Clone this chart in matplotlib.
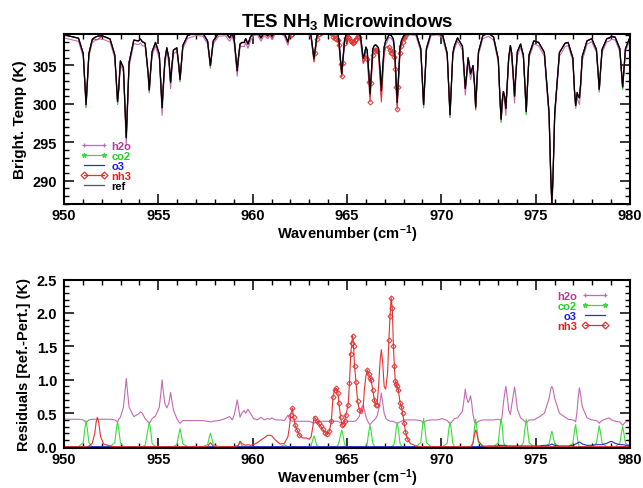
import numpy as np
import matplotlib
matplotlib.use("Agg")
import matplotlib.pyplot as plt
from matplotlib.lines import Line2D
from matplotlib.ticker import MultipleLocator, FormatStrFormatter

# common wavenumber grid (cm-1)
wn = [
    950.00, 950.77, 951.02, 951.11, 951.17, 951.23, 951.32, 951.50,
    951.63, 951.71, 951.77, 951.84, 951.94, 952.10, 952.44, 952.69,
    952.78, 952.84, 952.90, 952.99, 953.15, 953.24, 953.30, 953.36,
    953.45, 953.70, 953.95, 954.05, 954.15, 954.30, 954.46, 954.52,
    954.58, 954.67, 954.85, 955.05, 955.14, 955.20, 955.26, 955.35,
    955.45, 955.56, 955.65, 955.71, 955.80, 955.98, 956.09, 956.15,
    956.21, 956.30, 956.55, 957.00, 957.36, 957.61, 957.70, 957.76,
    957.82, 957.91, 958.20, 958.55, 958.78, 958.92, 959.03, 959.12,
    959.18, 959.24, 959.33, 959.42, 959.55, 959.63, 959.75, 959.88,
    960.05, 960.25, 960.44, 960.60, 960.80, 960.92, 961.02, 961.20,
    961.45, 961.68, 961.87, 961.95, 962.02, 962.10, 962.17, 962.25,
    962.35, 962.48, 962.65, 962.85, 963.00, 963.10, 963.19, 963.25,
    963.31, 963.40, 963.50, 963.60, 963.72, 963.83, 963.96, 964.06,
    964.17, 964.26, 964.35, 964.44, 964.52, 964.57, 964.66, 964.72,
    964.78, 964.87, 964.95, 965.06, 965.13, 965.20, 965.25, 965.30,
    965.35, 965.40, 965.48, 965.56, 965.65, 965.73, 965.80, 965.86,
    965.92, 966.00, 966.07, 966.16, 966.22, 966.28, 966.37, 966.45,
    966.52, 966.60, 966.67, 966.76, 966.82, 966.88, 966.97, 967.05,
    967.15, 967.22, 967.28, 967.34, 967.40, 967.46, 967.51, 967.56,
    967.60, 967.66, 967.72, 967.81, 967.88, 967.95, 968.02, 968.10,
    968.20, 968.35, 968.65, 968.91, 969.00, 969.06, 969.12, 969.21,
    969.46, 969.80, 970.06, 970.31, 970.40, 970.46, 970.52, 970.61,
    970.70, 970.86, 971.12, 971.21, 971.27, 971.33, 971.42, 971.49,
    971.55, 971.61, 971.68, 971.76, 971.82, 971.88, 971.97, 972.20,
    972.50, 972.77, 973.02, 973.11, 973.17, 973.23, 973.29, 973.36,
    973.42, 973.48, 973.57, 973.66, 973.73, 973.82, 973.88, 973.94,
    974.03, 974.20, 974.35, 974.44, 974.50, 974.56, 974.65, 974.90,
    975.16, 975.46, 975.71, 975.80, 975.86, 975.92, 976.01, 976.26,
    976.56, 976.72, 976.97, 977.06, 977.12, 977.20, 977.26, 977.32,
    977.38, 977.47, 977.72, 977.97, 978.22, 978.31, 978.37, 978.43,
    978.52, 978.77, 978.90, 979.02, 979.21, 979.46, 979.55, 979.61,
    979.67, 979.76, 980.00,
]

# reference brightness temperature (K)
tb_ref = [
    309.00, 308.55, 306.55, 302.60, 299.90, 302.60, 306.55, 308.40,
    308.65, 308.75, 308.80, 308.85, 308.85, 308.80, 308.45, 306.40,
    302.60, 300.30, 302.00, 305.60, 304.70, 299.30, 295.60, 299.60,
    305.40, 308.30, 308.20, 308.45, 308.10, 307.90, 304.00, 301.80,
    304.00, 306.80, 308.00, 306.50, 302.40, 299.50, 302.20, 305.75,
    307.30, 305.90, 302.80, 304.70, 307.00, 307.30, 304.90, 303.20,
    305.00, 307.60, 308.90, 309.30, 309.20, 308.20, 306.30, 305.00,
    306.30, 308.20, 309.20, 309.30, 308.60, 309.20, 308.20, 305.90,
    304.30, 305.90, 307.80, 308.00, 308.00, 308.50, 307.80, 308.70,
    309.30, 309.40, 308.60, 309.30, 308.90, 309.30, 308.80, 309.50,
    309.60, 309.20, 308.10, 309.00, 309.50, 309.70, 309.80, 309.80,
    309.80, 309.85, 309.80, 309.60, 309.40, 308.80, 307.10, 305.90,
    307.10, 308.80, 309.40, 309.60, 309.75, 309.80, 309.80, 309.75,
    309.60, 309.50, 309.45, 309.30, 309.10, 308.30, 305.70, 303.90,
    305.70, 308.30, 309.00, 309.40, 309.50, 309.60, 309.60, 309.60,
    309.60, 309.50, 309.40, 309.50, 309.20, 308.60, 307.10, 305.90,
    306.40, 307.40, 307.00, 303.90, 301.30, 303.70, 307.20, 307.60,
    307.70, 307.50, 307.30, 304.20, 301.70, 304.20, 307.40, 308.20,
    308.60, 309.00, 309.00, 308.90, 308.70, 308.40, 307.30, 305.50,
    303.10, 300.20, 303.10, 307.30, 308.20, 308.60, 308.90, 309.10,
    309.30, 309.40, 309.30, 307.20, 302.90, 299.90, 302.90, 307.20,
    309.30, 309.40, 309.05, 306.60, 301.90, 298.60, 301.90, 306.60,
    307.60, 308.60, 307.50, 304.25, 302.00, 303.50, 306.00, 305.00,
    303.90, 304.40, 305.00, 302.60, 299.60, 302.60, 306.80, 308.90,
    309.20, 308.70, 305.80, 300.60, 298.00, 300.50, 301.60, 300.90,
    299.40, 302.00, 306.00, 307.60, 306.60, 303.40, 301.00, 303.60,
    306.80, 307.80, 306.30, 302.10, 299.00, 302.10, 306.40, 308.20,
    308.00, 306.70, 298.80, 290.60, 287.10, 290.60, 298.80, 306.70,
    307.90, 308.00, 306.00, 301.70, 299.80, 301.50, 301.00, 300.80,
    302.50, 306.20, 308.20, 308.50, 307.10, 304.10, 301.90, 304.10,
    307.10, 308.50, 308.60, 308.80, 308.70, 307.20, 304.20, 302.20,
    304.20, 307.20, 308.70,
]

# residuals Ref. - Pert. (K) for each perturbed species
res_h2o = [
    0.41, 0.41, 0.40, 0.375, 0.36, 0.375, 0.40, 0.41,
    0.41, 0.41, 0.41, 0.41, 0.41, 0.41, 0.41, 0.40,
    0.38, 0.37, 0.41, 0.44, 0.59, 0.84, 1.02, 0.84,
    0.59, 0.45, 0.49, 0.52, 0.50, 0.42, 0.37, 0.35,
    0.37, 0.42, 0.46, 0.59, 0.82, 1.00, 0.82, 0.64,
    0.58, 0.65, 0.81, 0.70, 0.55, 0.42, 0.37, 0.35,
    0.37, 0.39, 0.39, 0.39, 0.39, 0.38, 0.375, 0.37,
    0.375, 0.38, 0.39, 0.42, 0.45, 0.40, 0.48, 0.61,
    0.70, 0.60, 0.44, 0.50, 0.54, 0.50, 0.56, 0.50,
    0.42, 0.40, 0.44, 0.40, 0.42, 0.41, 0.43, 0.40,
    0.40, 0.39, 0.47, 0.42, 0.39, 0.38, 0.38, 0.38,
    0.38, 0.38, 0.38, 0.38, 0.38, 0.37, 0.36, 0.35,
    0.36, 0.37, 0.38, 0.38, 0.38, 0.38, 0.38, 0.38,
    0.38, 0.38, 0.38, 0.38, 0.38, 0.37, 0.355, 0.34,
    0.355, 0.37, 0.38, 0.38, 0.38, 0.38, 0.38, 0.38,
    0.38, 0.38, 0.39, 0.42, 0.45, 0.55, 0.60, 0.62,
    0.55, 0.45, 0.40, 0.35, 0.33, 0.35, 0.38, 0.40,
    0.42, 0.46, 0.55, 0.68, 0.80, 0.68, 0.50, 0.43,
    0.40, 0.39, 0.38, 0.38, 0.38, 0.38, 0.37, 0.36,
    0.355, 0.35, 0.355, 0.37, 0.38, 0.39, 0.40, 0.40,
    0.40, 0.40, 0.40, 0.39, 0.37, 0.35, 0.37, 0.39,
    0.40, 0.40, 0.42, 0.39, 0.36, 0.35, 0.36, 0.39,
    0.42, 0.43, 0.53, 0.72, 0.86, 0.74, 0.66, 0.70,
    0.76, 0.65, 0.48, 0.37, 0.34, 0.36, 0.38, 0.40,
    0.40, 0.40, 0.41, 0.40, 0.36, 0.48, 0.65, 0.80,
    0.90, 0.78, 0.55, 0.48, 0.62, 0.78, 0.89, 0.78,
    0.56, 0.43, 0.40, 0.37, 0.36, 0.37, 0.40, 0.40,
    0.44, 0.50, 0.72, 0.86, 0.90, 0.86, 0.72, 0.50,
    0.44, 0.41, 0.40, 0.39, 0.37, 0.55, 0.75, 0.88,
    0.78, 0.60, 0.43, 0.40, 0.39, 0.37, 0.35, 0.37,
    0.39, 0.42, 0.43, 0.40, 0.38, 0.37, 0.34, 0.32,
    0.34, 0.37, 0.38,
]

res_co2 = [
    0, 0, 0.06, 0.28, 0.39, 0.28, 0.06, 0,
    0, 0, 0, 0, 0, 0, 0, 0.06,
    0.27, 0.38, 0.27, 0.06, 0, 0, 0, 0,
    0, 0, 0, 0, 0, 0.02, 0.27, 0.37,
    0.27, 0.05, 0, 0, 0, 0, 0, 0,
    0, 0, 0, 0, 0, 0.03, 0.19, 0.27,
    0.19, 0.04, 0, 0, 0, 0.03, 0.14, 0.20,
    0.14, 0.03, 0, 0, 0, 0, 0, 0,
    0, 0.01, 0.08, 0.02, 0, 0, 0, 0,
    0, 0, 0, 0, 0, 0, 0, 0,
    0, 0.03, 0, 0, 0, 0, 0, 0,
    0, 0, 0, 0, 0, 0.02, 0.11, 0.16,
    0.11, 0.02, 0, 0, 0, 0, 0, 0,
    0, 0, 0, 0, 0.02, 0.06, 0.18, 0.25,
    0.18, 0.04, 0, 0, 0, 0, 0, 0,
    0, 0, 0, 0, 0, 0, 0, 0,
    0, 0.01, 0.05, 0.23, 0.32, 0.23, 0.05, 0.01,
    0, 0, 0, 0, 0, 0, 0, 0,
    0, 0, 0, 0, 0.01, 0.02, 0.05, 0.15,
    0.26, 0.36, 0.26, 0.05, 0.01, 0, 0, 0,
    0, 0, 0, 0.06, 0.30, 0.42, 0.30, 0.06,
    0, 0, 0, 0.05, 0.27, 0.37, 0.27, 0.05,
    0, 0, 0, 0, 0, 0, 0, 0,
    0, 0, 0.05, 0.29, 0.41, 0.29, 0.06, 0,
    0, 0, 0.06, 0.30, 0.42, 0.30, 0.08, 0.01,
    0, 0, 0, 0, 0, 0, 0, 0,
    0, 0, 0.06, 0.29, 0.41, 0.29, 0.06, 0,
    0, 0, 0.04, 0.16, 0.23, 0.16, 0.04, 0,
    0, 0, 0.05, 0.24, 0.33, 0.15, 0.04, 0,
    0, 0, 0, 0, 0.05, 0.22, 0.31, 0.22,
    0.05, 0, 0, 0, 0, 0.05, 0.21, 0.30,
    0.21, 0.05, 0,
]

# o3 stays at zero up to ~972 cm-1
res_o3 = [0.0] * 192 + [
    0.01, 0.01, 0.01, 0.02, 0.02, 0.02, 0.02, 0.02,
    0.02, 0.01, 0.01, 0.01, 0.01, 0.01, 0.01, 0.01,
    0.01, 0.01, 0.01, 0.01, 0.01, 0.01, 0.01, 0.01,
    0.01, 0.02, 0.02, 0.03, 0.04, 0.03, 0.02, 0.01,
    0.01, 0.01, 0.02, 0.03, 0.04, 0.05, 0.06, 0.07,
    0.06, 0.04, 0.02, 0.02, 0.03, 0.03, 0.03, 0.03,
    0.03, 0.05, 0.07, 0.08, 0.05, 0.03, 0.03, 0.03,
    0.03, 0.02, 0.02,
]

res_nh3 = [
    0, 0, 0, 0, 0, 0, 0.01, 0.05,
    0.20, 0.38, 0.44, 0.36, 0.15, 0.04, 0.01, 0,
    0, 0, 0, 0, 0, 0, 0, 0,
    0, 0, 0, 0, 0, 0, 0, 0,
    0, 0, 0, 0, 0, 0, 0, 0,
    0, 0, 0, 0, 0, 0, 0, 0,
    0, 0, 0, 0, 0, 0, 0.04, 0.06,
    0.04, 0.01, 0, 0, 0, 0, 0, 0.01,
    0.01, 0.02, 0.08, 0.05, 0.03, 0.02, 0.03, 0.02,
    0.03, 0.06, 0.10, 0.13, 0.17, 0.17, 0.16, 0.10,
    0.04, 0.05, 0.15, 0.30, 0.48, 0.58, 0.45, 0.32,
    0.25, 0.17, 0.13, 0.13, 0.11, 0.15, 0.30, 0.45,
    0.43, 0.39, 0.35, 0.31, 0.26, 0.21, 0.19, 0.23,
    0.38, 0.75, 0.85, 0.87, 0.81, 0.65, 0.45, 0.33,
    0.34, 0.38, 0.48, 0.63, 0.95, 1.39, 1.55, 1.66,
    1.50, 1.20, 0.96, 0.68, 0.55, 0.50, 0.50, 0.60,
    0.85, 1.05, 1.15, 1.08, 1.03, 0.99, 0.84, 0.70,
    0.62, 0.63, 0.90, 1.30, 1.45, 1.30, 0.90, 0.86,
    1.10, 1.60, 1.95, 2.23, 2.07, 1.50, 1.20, 0.98,
    0.93, 0.90, 0.85, 0.66, 0.60, 0.50, 0.36, 0.22,
    0.12, 0.05, 0.01, 0, 0, 0, 0, 0,
    0, 0, 0, 0, 0, 0, 0, 0,
    0, 0, 0, 0, 0, 0, 0, 0,
    0, 0.02, 0.06, 0.18, 0.25, 0.20, 0.08, 0.01,
] + [0.0] * 59

# NH3 microwindows (points drawn with markers)
nh3_windows = [(961.98, 962.52), (963.28, 965.70), (966.05, 966.62), (967.20, 968.22)]

species = ["h2o", "co2", "o3", "nh3"]
line_colors = {"h2o": "#c46ab2", "co2": "#3cdc3c", "o3": "#2a2ad8",
               "nh3": "#e43232", "ref": "black"}
text_colors = {"h2o": "#c0329c", "co2": "#22d022", "o3": "#1c1ce0",
               "nh3": "#ee1c1c", "ref": "black"}
markers = {"h2o": "+", "co2": "*", "o3": None, "nh3": "D", "ref": None}


def style_axes(ax, ymajor, yminor):
    ax.set_xlim(950, 980)
    ax.xaxis.set_major_locator(MultipleLocator(5))
    ax.xaxis.set_minor_locator(MultipleLocator(1))
    ax.yaxis.set_major_locator(MultipleLocator(ymajor))
    ax.yaxis.set_minor_locator(MultipleLocator(yminor))
    ax.tick_params(which="both", direction="in", top=True, right=True)
    ax.tick_params(which="major", length=7, width=1.1, labelsize=10.5, pad=5)
    ax.tick_params(axis="x", which="major", pad=3)
    ax.tick_params(which="minor", length=3.5, width=1.0)
    for s in ax.spines.values():
        s.set_linewidth(1.5)
    for lab in ax.get_xticklabels() + ax.get_yticklabels():
        lab.set_fontweight("bold")
    ax.set_xlabel("Wavenumber (cm$^{-1}$)", fontsize=10.5, fontweight="bold",
                  labelpad=0)


def legend_handles(names):
    hs = []
    for n in names:
        m = markers[n]
        c = "#555555" if n == "ref" else line_colors[n]
        hs.append(Line2D([], [], color=c, lw=0.9, marker=m, markersize=3.5,
                         markerfacecolor="none", markeredgecolor=c,
                         markeredgewidth=0.9))
    return hs


def main():
    plt.rcParams["font.family"] = ["Liberation Sans", "DejaVu Sans"]
    plt.rcParams["mathtext.fontset"] = "custom"
    plt.rcParams["mathtext.rm"] = "Liberation Sans:bold"
    plt.rcParams["mathtext.it"] = "Liberation Sans:bold"
    plt.rcParams["mathtext.bf"] = "Liberation Sans:bold"

    x = np.array(wn)
    ref = np.array(tb_ref)
    res = {"h2o": np.array(res_h2o), "co2": np.array(res_co2),
           "o3": np.array(res_o3), "nh3": np.array(res_nh3)}
    assert all(len(v) == len(x) for v in res.values()) and len(ref) == len(x)
    in_mw = [any(lo <= w <= hi for lo, hi in nh3_windows) for w in wn]

    fig = plt.figure(figsize=(6.43, 4.89), dpi=100)
    W, H = 643.0, 489.0
    ax1 = fig.add_axes([64 / W, 1 - 205 / H, 566 / W, 170 / H])
    ax2 = fig.add_axes([64 / W, 1 - 449 / H, 566 / W, 168.5 / H])
    mw_style = dict(marker="D", markersize=2.6, markevery=in_mw,
                    markerfacecolor="none", markeredgewidth=0.7)

    # top panel: perturbed spectra (ref - residual) and reference
    for n in species:
        kw = mw_style if n == "nh3" else {}
        ax1.plot(x, ref - res[n], color=line_colors[n], lw=0.8, **kw)
    ax1.plot(x, ref, color="black", lw=0.9)
    ax1.set_ylim(286.96, 309.1)
    style_axes(ax1, 5, 1)
    ax1.set_ylabel("Bright. Temp (K)", fontsize=11, fontweight="bold")
    ax1.set_title("TES NH$_3$ Microwindows", fontsize=13.5, fontweight="bold",
                  pad=6)
    names = species + ["ref"]
    leg1 = ax1.legend(legend_handles(names), names, loc="lower left",
                      bbox_to_anchor=(0.015, 0.03), frameon=False, fontsize=8,
                      handlelength=2.4, handletextpad=0.4, labelspacing=0.0,
                      borderaxespad=0.3, numpoints=2)
    for t, n in zip(leg1.get_texts(), names):
        t.set_color(text_colors[n])
        t.set_fontweight("bold")

    # bottom panel: residuals
    for n in species:
        kw = mw_style if n == "nh3" else {}
        ax2.plot(x, res[n], color=line_colors[n], lw=0.8, **kw)
    ax2.set_ylim(-0.02, 2.5)
    style_axes(ax2, 0.5, 0.1)
    ax2.yaxis.set_major_formatter(FormatStrFormatter("%.1f"))
    ax2.set_ylabel("Residuals [Ref.-Pert.] (K)", fontsize=10.5,
                   fontweight="bold")
    leg2 = ax2.legend(legend_handles(species), species, loc="upper right",
                      bbox_to_anchor=(0.975, 0.98), frameon=False, fontsize=8,
                      handlelength=2.4, handletextpad=0.4, labelspacing=0.0,
                      borderaxespad=0.3, numpoints=2, markerfirst=False)
    for t, n in zip(leg2.get_texts(), species):
        t.set_color(text_colors[n])
        t.set_fontweight("bold")

    fig.savefig("out.png", dpi=100)


if __name__ == "__main__":
    main()
